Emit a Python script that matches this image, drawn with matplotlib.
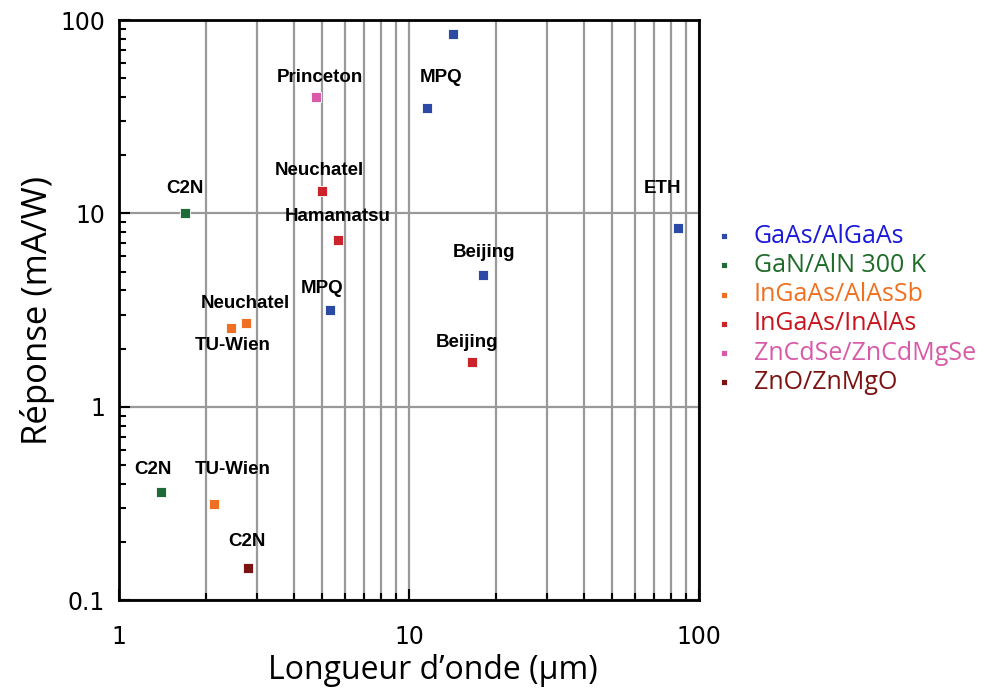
import matplotlib
matplotlib.use("Agg")
import matplotlib.pyplot as plt
from matplotlib.ticker import LogLocator, FixedLocator, NullFormatter, FixedFormatter

# Data
series_names = ["GaAs/AlGaAs", "GaN/AlN 300 K", "InGaAs/AlAsSb", "InGaAs/InAlAs",
                "ZnCdSe/ZnCdMgSe", "ZnO/ZnMgO"]
marker_colors = ["#2b4aa6", "#1f6b37", "#ef6f24", "#cc2229", "#d95aa8", "#7c1313"]
text_colors = ["#1a1ad8", "#1f6b2a", "#f07020", "#c8141c", "#d95aa8", "#7c1313"]

gaas_x = [14.2, 11.5, 84.6, 18.0, 5.33]
gaas_y = [85.0, 35.0, 8.4, 4.8, 3.17]
gan_x = [1.69, 1.40]
gan_y = [10.0, 0.364]
ingaas_sb_x = [2.75, 2.44, 2.13]
ingaas_sb_y = [2.72, 2.56, 0.315]
ingaas_inal_x = [5.0, 5.68, 16.5]
ingaas_inal_y = [13.1, 7.3, 1.71]
zncdse_x = [4.77]
zncdse_y = [40.0]
zno_x = [2.79]
zno_y = [0.147]

series_x = [gaas_x, gan_x, ingaas_sb_x, ingaas_inal_x, zncdse_x, zno_x]
series_y = [gaas_y, gan_y, ingaas_sb_y, ingaas_inal_y, zncdse_y, zno_y]

# labels: (text, x, y, dx_pixels, dy_pixels)
labels = [
    ("Princeton", 4.77, 40.0, 4, 20),
    ("MPQ", 11.5, 35.0, 14, 31),
    ("C2N", 1.69, 10.0, 0, 25),
    ("Neuchatel", 5.0, 13.1, -2, 20),
    ("Hamamatsu", 5.68, 7.3, 0, 23),
    ("ETH", 84.6, 8.4, -15, 40),
    ("Beijing", 18.0, 4.8, 1, 23),
    ("MPQ", 5.33, 3.17, -8, 21),
    ("Neuchatel", 2.75, 2.72, -1, 19),
    ("TU-Wien", 2.44, 2.56, 1, -18),
    ("Beijing", 16.5, 1.71, -5, 19),
    ("C2N", 1.40, 0.364, -8, 22),
    ("TU-Wien", 2.13, 0.315, 18, 34),
    ("C2N", 2.79, 0.147, -1, 26),
]

x_ticks = [1, 10, 100]
x_ticklabels = ["1", "10", "100"]
y_ticks = [0.1, 1, 10, 100]
y_ticklabels = ["0.1", "1", "10", "100"]

fig = plt.figure(figsize=(10.05, 6.93), dpi=100)
ax = fig.add_axes([0.1184, 0.134, 0.5771, 0.837])
ax.set_xscale("log")
ax.set_yscale("log")
ax.set_xlim(1, 100)
ax.set_ylim(0.1, 100)

# grid
ax.xaxis.set_major_locator(FixedLocator(x_ticks))
ax.xaxis.set_major_formatter(FixedFormatter(x_ticklabels))
ax.xaxis.set_minor_locator(LogLocator(base=10, subs=range(2, 10)))
ax.xaxis.set_minor_formatter(NullFormatter())
ax.yaxis.set_major_locator(FixedLocator(y_ticks))
ax.yaxis.set_major_formatter(FixedFormatter(y_ticklabels))
ax.yaxis.set_minor_locator(LogLocator(base=10, subs=range(2, 10)))
ax.yaxis.set_minor_formatter(NullFormatter())
ax.grid(True, which="both", axis="x", color="#999999", lw=1.6, zorder=0)
ax.grid(True, which="major", axis="y", color="#999999", lw=1.6, zorder=0)
ax.set_axisbelow(True)

ax.tick_params(which="both", direction="in", top=False, right=False)
ax.tick_params(which="major", length=8, width=1.5, labelsize=17)
ax.tick_params(axis="x", which="major", pad=18)
ax.tick_params(axis="y", which="major", pad=10)
ax.tick_params(which="minor", length=5, width=1.5)
for sp in ax.spines.values():
    sp.set_linewidth(2)

for t in ax.get_xticklabels() + ax.get_yticklabels():
    t.set_family(["DejaVu Sans"])

handles = []
for name, xs, ys, mc in zip(series_names, series_x, series_y, marker_colors):
    h = ax.scatter(xs, ys, marker="s", s=60, color=mc, edgecolors="white",
                   linewidths=0.6, zorder=3, label=name)
    handles.append(h)

for txt, x, y, dx, dy in labels:
    ax.annotate(txt, (x, y), xytext=(dx, dy), textcoords="offset pixels",
                ha="center", va="center", fontsize=13.5, fontweight="bold",
                family=["Liberation Sans", "DejaVu Sans"], zorder=4)

fam = ["Open Sans", "DejaVu Sans"]
ax.set_xlabel("Longueur d\u2019onde (\u00b5m)", fontsize=23, family=fam)
ax.xaxis.set_label_coords(0.541, -0.122)
ax.xaxis.label.set_va("center")
ax.set_ylabel("R\u00e9ponse (mA/W)", fontsize=25, family=fam, labelpad=4)

leg = ax.legend(handles=handles, loc="upper left", bbox_to_anchor=(0.995, 0.675),
                frameon=False, handletextpad=0.7, markerscale=0.55,
                labelspacing=0.17, handlelength=1.0, borderaxespad=0.2,
                prop={"family": fam, "size": 18})
for t, c in zip(leg.get_texts(), text_colors):
    t.set_color(c)

fig.savefig("out.png", dpi=100)
